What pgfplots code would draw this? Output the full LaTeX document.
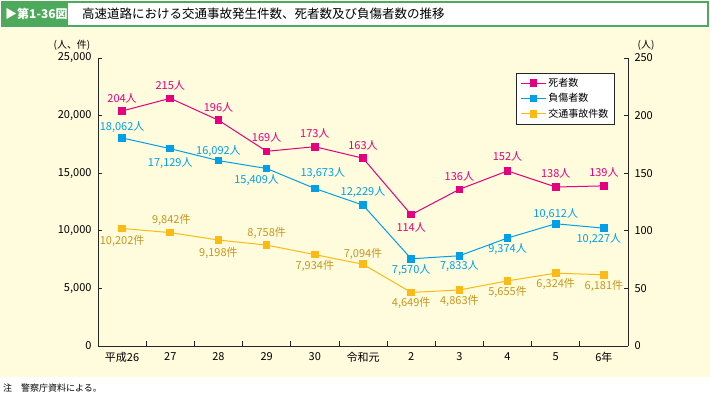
\documentclass[border=0pt]{standalone}
\usepackage{fontspec}
\setmainfont{Noto Sans CJK JP}
\usepackage{pgfplots}
\usepackage{pgfplotstable}
\pgfplotsset{compat=1.18}
\pgfplotsset{/pgf/number format/assume math mode=true}
\definecolor{bgy}{RGB}{255,251,221}
\definecolor{tgreen}{RGB}{77,170,90}
\definecolor{cmag}{RGB}{228,0,127}
\definecolor{ccyan}{RGB}{0,160,233}
\definecolor{cyel}{RGB}{252,186,20}
\definecolor{cgold}{RGB}{200,150,30}

\pgfplotstableread{
x y dx dy
0 204 0 13
1 215 0 13
2 196 0 13
3 169 0 14
4 173 0 13
5 163 0 13
6 114 0 -13
7 136 0 13
8 152 0 14
9 138 0 14
10 139 0 13
}\deaths

\pgfplotstableread{
x y dx dy
0 18062 0 11
1 17129 0 -14
2 16092 0 10
3 15409 -10 -12
4 13673 8 15
5 12229 0 13
6 7570 0 -11
7 7833 0 -10
8 9374 0 -11
9 10612 0 10
10 10227 -5 -11
}\injured

\pgfplotstableread{
x y dx dy
0 10202 0 -12
1 9842 1 13
2 9198 0 -13
3 8758 0 12
4 7934 0 -11
5 7094 0 10
6 4649 0 -11
7 4863 0 -11
8 5655 0 -11
9 6324 0 -11
10 6181 0 -11
}\accidents

\begin{document}
\begin{tikzpicture}[x=1pt,y=1pt]
\path (0,0) rectangle (710,397);
\fill[bgy] (0,20) rectangle (710,369);
\draw[tgreen, line width=1.2pt, fill=white] (2,371) rectangle (708,395);
\fill[tgreen] (2,371) rectangle (68,395);
\node[anchor=west, text=white, font=\fontsize{12}{14}\selectfont\bfseries, inner sep=0pt] at (5,383) {▶第1-36図};
\node[anchor=west, font=\fontsize{12.5}{14}\selectfont, inner sep=0pt] at (82,383) {高速道路における交通事故発生件数、死者数及び負傷者数の推移};
\node[anchor=west, font=\fontsize{9}{10}\selectfont, inner sep=0pt] at (3,9) {注\quad 警察庁資料による。};
\node[font=\fontsize{10}{12}\selectfont, inner sep=0pt] at (72,352) {(人、件)};
\node[font=\fontsize{10}{12}\selectfont, inner sep=0pt] at (646,352) {(人)};

\begin{axis}[
  at={(98pt,51pt)}, anchor=south west,
  scale only axis, width=530pt, height=288pt,
  xmin=-0.5, xmax=10.5, ymin=0, ymax=25000,
  axis y line*=left, axis x line*=bottom,
  axis line style={black!85, line width=0.8pt},
  ytick={0,5000,...,25000}, scaled y ticks=false,
  xtick={0,...,10},
  xticklabels={平成26,27,28,29,30,令和元,2,3,4,5,6年},
  major x tick style={draw=none},
  minor xtick={0.5,1.5,...,9.5},
  minor x tick style={black!85, line width=0.7pt},
  minor tick length=5pt, major tick length=4pt,
  y tick style={black!85, line width=0.7pt},
  tick align=inside,
  ticklabel style={font=\fontsize{11}{13}\selectfont},
  xticklabel style={yshift=-3pt},
  yticklabel style={xshift=-3pt},
  clip=false,
  every axis plot/.append style={line width=1pt, mark=square*, mark size=3.3pt},
]
\addplot[ccyan, mark options={fill=ccyan, draw=ccyan},
  nodes near coords={\pgfmathprintnumber{\pgfplotspointmeta}人},
  point meta=explicit,
  visualization depends on={\thisrow{dx}\as\ldx},
  visualization depends on={\thisrow{dy}\as\ldy},
  every node near coord/.append style={anchor=center, xshift=\ldx pt, yshift=\ldy pt, font=\fontsize{11}{12}\selectfont, text=ccyan, inner sep=0pt}
] table[x=x,y=y,meta=y]{\injured};
\addplot[cyel, mark options={fill=cyel, draw=cyel},
  nodes near coords={\pgfmathprintnumber{\pgfplotspointmeta}件},
  point meta=explicit,
  visualization depends on={\thisrow{dx}\as\ldx},
  visualization depends on={\thisrow{dy}\as\ldy},
  every node near coord/.append style={anchor=center, xshift=\ldx pt, yshift=\ldy pt, font=\fontsize{11}{12}\selectfont, text=cgold, inner sep=0pt}
] table[x=x,y=y,meta=y]{\accidents};
\end{axis}

\begin{axis}[
  at={(98pt,51pt)}, anchor=south west,
  scale only axis, width=530pt, height=288pt,
  xmin=-0.5, xmax=10.5, ymin=0, ymax=250,
  axis y line*=right, axis x line=none,
  axis line style={black!85, line width=0.8pt},
  ytick={0,50,...,250},
  major tick length=4pt,
  y tick style={black!85, line width=0.7pt},
  tick align=inside,
  ticklabel style={font=\fontsize{11}{13}\selectfont},
  yticklabel style={xshift=3pt},
  clip=false,
  every axis plot/.append style={line width=1pt, mark=square*, mark size=3.3pt},
  legend style={at={(0.789,0.948)}, anchor=north west, draw=black!85, fill=white,
    font=\fontsize{10}{12}\selectfont, row sep=1.5pt, inner xsep=4pt, inner ysep=3pt},
  legend cell align=left,
  legend image code/.code={\draw[mark repeat=2,mark phase=2] plot coordinates {(0pt,0pt) (12.5pt,0pt) (25pt,0pt)};},
]
\addplot[cmag, mark options={fill=cmag, draw=cmag},
  nodes near coords={\pgfmathprintnumber{\pgfplotspointmeta}人},
  point meta=explicit,
  visualization depends on={\thisrow{dx}\as\ldx},
  visualization depends on={\thisrow{dy}\as\ldy},
  every node near coord/.append style={anchor=center, xshift=\ldx pt, yshift=\ldy pt, font=\fontsize{11}{12}\selectfont, text=cmag, inner sep=0pt}
] table[x=x,y=y,meta=y]{\deaths};
\addlegendentry{死者数}
\addlegendimage{ccyan, line width=1pt, mark=square*, mark size=3.3pt, mark options={fill=ccyan, draw=ccyan}}
\addlegendentry{負傷者数}
\addlegendimage{cyel, line width=1pt, mark=square*, mark size=3.3pt, mark options={fill=cyel, draw=cyel}}
\addlegendentry{交通事故件数}
\end{axis}
\end{tikzpicture}
\end{document}
